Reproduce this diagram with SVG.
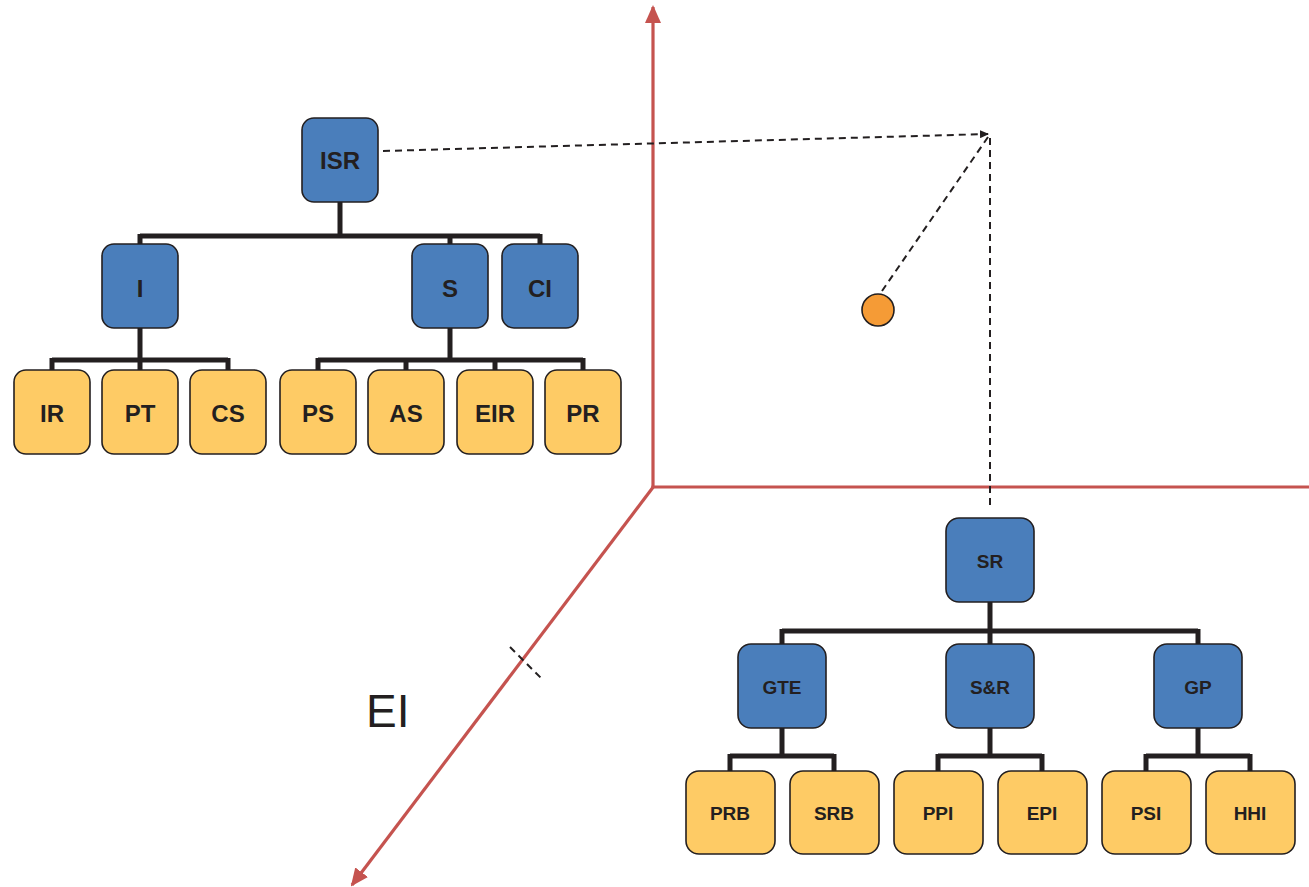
<svg xmlns="http://www.w3.org/2000/svg" width="1309" height="887" viewBox="0 0 1309 887">
<style>
.blue{fill:#4a7ebb;stroke:#231f20;stroke-width:1.6}
.yel{fill:#fecb65;stroke:#231f20;stroke-width:1.6}
.tl{font-family:"Liberation Sans",Arial,sans-serif;font-weight:bold;font-size:24px;fill:#231f20;text-anchor:middle}
.tr{font-family:"Liberation Sans",Arial,sans-serif;font-weight:bold;font-size:19px;fill:#231f20;text-anchor:middle}
.con{fill:none;stroke:#231f20;stroke-width:5}
.axis{fill:none;stroke:#c5534f;stroke-width:3.2}
.dash{fill:none;stroke:#231f20;stroke-width:2;stroke-dasharray:7 5}
</style>
<defs>
<marker id="ah" markerUnits="userSpaceOnUse" markerWidth="18" markerHeight="16" viewBox="0 0 18 16" refX="16" refY="8" orient="auto">
<path d="M0,0 L18,8 L0,16 z" fill="#c5534f"/>
</marker>
<marker id="dh" markerUnits="userSpaceOnUse" markerWidth="9" markerHeight="8" viewBox="0 0 9 8" refX="8" refY="4" orient="auto">
<path d="M0,0 L9,4 L0,8 z" fill="#231f20"/>
</marker>
</defs>
<rect width="1309" height="887" fill="#ffffff"/>

<g id="axes">
<line class="axis" x1="653" y1="487" x2="653" y2="7" marker-end="url(#ah)"/>
<line class="axis" x1="651.5" y1="487" x2="1309" y2="487"/>
<line class="axis" x1="654" y1="486" x2="352" y2="885" marker-end="url(#ah)"/>
<line class="dash" x1="510" y1="647" x2="542" y2="679" stroke-dasharray="6 5"/>
<text x="366" y="727" font-family="Liberation Sans,Arial,sans-serif" font-size="46" fill="#231f20">EI</text>
</g>

<g id="connectors">
<path class="con" d="M340,202 V236 M140,236 H540 M140,234 V245 M450,234 V245 M540,234 V245"/>
<path class="con" d="M140,328 V360 M52,360 H228 M52,358 V371 M140,358 V371 M228,358 V371"/>
<path class="con" d="M450,328 V360 M318,360 H583 M318,358 V371 M406,358 V371 M495,358 V371 M583,358 V371"/>
<path class="con" d="M990,602 V631 M782,631 H1198 M782,629 V644 M990,629 V644 M1198,629 V644"/>
<path class="con" d="M782,728 V756 M730,756 H834 M730,754 V771 M834,754 V771"/>
<path class="con" d="M990,728 V756 M938,756 H1042 M938,754 V771 M1042,754 V771"/>
<path class="con" d="M1198,728 V756 M1146,756 H1250 M1146,754 V771 M1250,754 V771"/>
<line class="dash" x1="383" y1="151" x2="988" y2="134" marker-end="url(#dh)"/>
<line class="dash" x1="882" y1="291" x2="988" y2="137"/>
<line class="dash" x1="990" y1="138" x2="990" y2="505"/>
</g>

<g id="point"><circle cx="878" cy="310" r="16" fill="#f59b36" stroke="#231f20" stroke-width="1.6"/></g>

<g id="ISR"><rect class="blue" x="302" y="118" width="76" height="84" rx="12"/><text class="tl" x="340" y="169">ISR</text></g>
<g id="I"><rect class="blue" x="102" y="244" width="76" height="84" rx="12"/><text class="tl" x="140" y="297">I</text></g>
<g id="S"><rect class="blue" x="412" y="244" width="76" height="84" rx="12"/><text class="tl" x="450" y="297">S</text></g>
<g id="CI"><rect class="blue" x="502" y="244" width="76" height="84" rx="12"/><text class="tl" x="540" y="297">CI</text></g>

<g id="IR"><rect class="yel" x="14" y="370" width="76" height="84" rx="12"/><text class="tl" x="52" y="422">IR</text></g>
<g id="PT"><rect class="yel" x="102" y="370" width="76" height="84" rx="12"/><text class="tl" x="140" y="422">PT</text></g>
<g id="CS"><rect class="yel" x="190" y="370" width="76" height="84" rx="12"/><text class="tl" x="228" y="422">CS</text></g>
<g id="PS"><rect class="yel" x="280" y="370" width="76" height="84" rx="12"/><text class="tl" x="318" y="422">PS</text></g>
<g id="AS"><rect class="yel" x="368" y="370" width="76" height="84" rx="12"/><text class="tl" x="406" y="422">AS</text></g>
<g id="EIR"><rect class="yel" x="457" y="370" width="76" height="84" rx="12"/><text class="tl" x="495" y="422">EIR</text></g>
<g id="PR"><rect class="yel" x="545" y="370" width="76" height="84" rx="12"/><text class="tl" x="583" y="422">PR</text></g>

<g id="SR"><rect class="blue" x="946" y="518" width="88" height="84" rx="13"/><text class="tr" x="990" y="568">SR</text></g>
<g id="GTE"><rect class="blue" x="738" y="644" width="88" height="84" rx="13"/><text class="tr" x="782" y="694">GTE</text></g>
<g id="SandR"><rect class="blue" x="946" y="644" width="88" height="84" rx="13"/><text class="tr" x="990" y="694">S&amp;R</text></g>
<g id="GP"><rect class="blue" x="1154" y="644" width="88" height="84" rx="13"/><text class="tr" x="1198" y="694">GP</text></g>

<g id="PRB"><rect class="yel" x="686" y="771" width="89" height="83" rx="13"/><text class="tr" x="730" y="820">PRB</text></g>
<g id="SRB"><rect class="yel" x="790" y="771" width="89" height="83" rx="13"/><text class="tr" x="834" y="820">SRB</text></g>
<g id="PPI"><rect class="yel" x="894" y="771" width="89" height="83" rx="13"/><text class="tr" x="938" y="820">PPI</text></g>
<g id="EPI"><rect class="yel" x="998" y="771" width="89" height="83" rx="13"/><text class="tr" x="1042" y="820">EPI</text></g>
<g id="PSI"><rect class="yel" x="1102" y="771" width="89" height="83" rx="13"/><text class="tr" x="1146" y="820">PSI</text></g>
<g id="HHI"><rect class="yel" x="1206" y="771" width="89" height="83" rx="13"/><text class="tr" x="1250" y="820">HHI</text></g>
</svg>
